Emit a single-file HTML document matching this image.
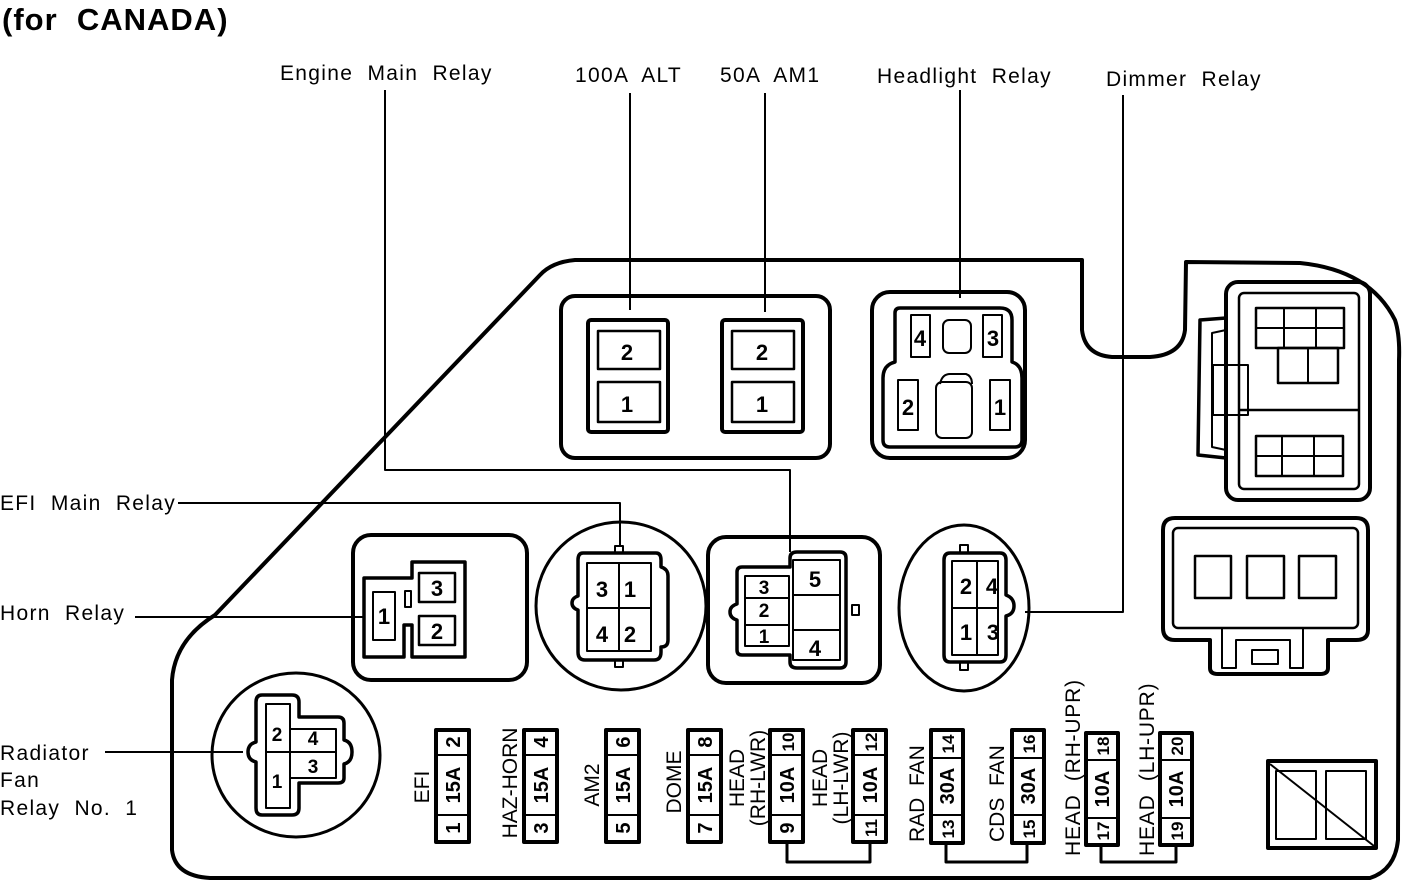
<!DOCTYPE html>
<html><head><style>
html,body{margin:0;padding:0;background:#fff;}
svg{display:block;}
text{font-family:"Liberation Sans",Arial,sans-serif;fill:#000;white-space:pre;}
.l{font-size:21px;letter-spacing:1.3px;}
.n{font-size:22px;font-weight:bold;}
.f{font-size:20px;font-weight:bold;}
.fl{font-size:21px;}
</style></head><body>
<svg width="1408" height="892" viewBox="0 0 1408 892" xmlns="http://www.w3.org/2000/svg" xml:space="preserve">
<g fill="none" stroke="#000" stroke-linejoin="round">
<path d="M172 850 L172 680 Q175 640 215 615 L540 275 Q552 262 575 260 L1082 260 L1082 330 Q1085 355 1112 357 L1150 357 Q1182 355 1185 330 L1186 262 L1300 263 Q1370 270 1395 320 Q1400 335 1399 360 L1398 840 Q1395 870 1370 878 L210 878 Q175 876 172 850 Z" stroke-width="4"/>
<g stroke-width="2">
<path d="M385 90 L385 470 L790 470 L790 552"/>
<path d="M178 503 L620 503 L620 545"/>
<path d="M135 617 L365 617"/>
<path d="M1123 95 L1123 612 L1025 612"/>
<path d="M960 90 L960 298"/>
<path d="M630 93 L630 310"/>
<path d="M765 93 L765 312"/>
<path d="M105 752 L243 752"/>
</g>
<rect x="561" y="296" width="269" height="162" rx="14" stroke-width="4"/>
<rect x="588" y="320" width="80" height="112" rx="3" stroke-width="4"/>
<rect x="598" y="331" width="62" height="38" stroke-width="2.5"/>
<rect x="598" y="382" width="62" height="40" stroke-width="2.5"/>
<rect x="722" y="320" width="81" height="112" rx="3" stroke-width="4"/>
<rect x="732" y="331" width="62" height="38" stroke-width="2.5"/>
<rect x="732" y="382" width="62" height="40" stroke-width="2.5"/>
<rect x="872" y="292" width="153" height="166" rx="18" stroke-width="4"/>
<path d="M900 308 L1000 308 Q1012 308 1012 320 L1012 362 Q1022 365 1022 378 L1022 440 Q1022 447 1015 447 L890 447 Q883 447 883 440 L883 378 Q883 365 895 362 L895 313 Q895 308 900 308 Z" stroke-width="3.5"/>
<rect x="911" y="315" width="19" height="42" stroke-width="2"/>
<rect x="983" y="315" width="19" height="42" stroke-width="2"/>
<rect x="943" y="320" width="28" height="33" rx="6" stroke-width="2"/>
<rect x="898" y="380" width="20" height="50" stroke-width="2"/>
<rect x="990" y="380" width="20" height="50" stroke-width="2"/>
<rect x="936" y="382" width="36" height="56" rx="6" stroke-width="2"/>
<path d="M940 384 Q942 374 950 374 L966 374 Q972 376 972 384" stroke-width="2"/>
<!-- horn relay -->
<rect x="353" y="535" width="174" height="145" rx="18" stroke-width="4"/>
<path d="M364 578 L412 578 L412 562 L465 562 L465 657 L412 657 L412 625 L404 625 L404 657 L364 657 Z" stroke-width="3.5"/>
<rect x="373" y="592" width="22" height="48" stroke-width="2"/>
<rect x="405" y="591" width="6" height="16" stroke-width="2"/>
<rect x="419" y="573" width="36" height="29" stroke-width="2.5"/>
<rect x="419" y="616" width="36" height="29" stroke-width="2.5"/>
<ellipse cx="621" cy="606" rx="85" ry="84" stroke-width="3"/>
<path d="M583 553 L656 553 Q661 553 661 560 L661 567 Q668 569 668 576 L668 640 Q668 647 661 647 L661 652 Q661 660 654 660 L585 660 Q578 660 578 652 L578 610 Q572 608 572 603 Q572 598 578 596 L578 560 Q578 553 583 553 Z" stroke-width="3.5"/>
<rect x="587" y="563" width="64" height="88" stroke-width="2"/>
<path d="M619 563 L619 651 M587 608 L651 608" stroke-width="2"/>
<rect x="615" y="546" width="8" height="7" stroke-width="2"/>
<rect x="615" y="660" width="8" height="7" stroke-width="2"/>
<rect x="708" y="537" width="172" height="146" rx="18" stroke-width="4"/>
<path d="M742 567 L790 567 L790 558 Q790 552 797 552 L840 552 Q846 552 846 558 L846 662 Q846 668 840 668 L797 668 Q790 668 790 662 L790 655 L742 655 Q737 655 737 650 L737 620 Q730 618 730 612 Q730 606 737 604 L737 572 Q737 567 742 567 Z" stroke-width="3.5"/>
<rect x="745" y="576" width="44" height="70" stroke-width="2"/>
<path d="M745 598 L789 598 M745 625 L789 625" stroke-width="2"/>
<rect x="793" y="560" width="47" height="100" stroke-width="2"/>
<path d="M793 595 L840 595 M793 630 L840 630" stroke-width="2"/>
<rect x="852" y="605" width="7" height="10" stroke-width="2"/>
<ellipse cx="964" cy="608" rx="65" ry="83" stroke-width="3"/>
<path d="M950 553 L1000 553 Q1006 553 1006 560 L1006 595 Q1014 598 1014 606 Q1014 614 1006 616 L1006 655 Q1006 662 1000 662 L950 662 Q944 662 944 655 L944 560 Q944 553 950 553 Z" stroke-width="3.5"/>
<rect x="952" y="561" width="46" height="94" stroke-width="2"/>
<path d="M977 561 L977 655 M952 608 L998 608" stroke-width="2"/>
<rect x="960" y="545" width="8" height="8" stroke-width="2"/>
<rect x="960" y="662" width="8" height="8" stroke-width="2"/>
<ellipse cx="296" cy="755" rx="84" ry="82" stroke-width="3"/>
<path d="M262 695 L292 695 Q299 695 299 702 L299 717 L338 717 Q344 717 344 723 L344 740 Q352 742 352 752 Q352 762 344 764 L344 778 Q344 783 338 783 L299 783 L299 808 Q299 815 292 815 L262 815 Q256 815 256 808 L256 762 Q248 760 248 752 Q248 744 256 742 L256 702 Q256 695 262 695 Z" stroke-width="3.5"/>
<rect x="266" y="704" width="24" height="104" stroke-width="2"/>
<rect x="290" y="729" width="46" height="49" stroke-width="2"/>
<path d="M266 752 L336 752" stroke-width="2"/>
<rect x="1226" y="282" width="144" height="218" rx="12" stroke-width="4"/>
<rect x="1239" y="293" width="120" height="196" rx="5" stroke-width="2.5"/>
<path d="M1226 318 L1200 320 L1198 455 L1226 458" stroke-width="3.5"/>
<path d="M1226 330 L1212 333 L1212 447 L1226 450" stroke-width="2"/>
<path d="M1239 410 L1359 410" stroke-width="2.5"/>
<rect x="1256" y="308" width="88" height="40" stroke-width="2.5"/>
<path d="M1284 308 L1284 348 M1316 308 L1316 348 M1256 328 L1344 328" stroke-width="2"/>
<rect x="1278" y="348" width="60" height="35" stroke-width="2.5"/>
<path d="M1308 348 L1308 383" stroke-width="2"/>
<rect x="1256" y="436" width="87" height="40" stroke-width="2.5"/>
<path d="M1282 436 L1282 476 M1314 436 L1314 476 M1256 456 L1343 456" stroke-width="2"/>
<rect x="1213" y="365" width="35" height="50" stroke-width="2"/>
<path d="M1175 518 L1356 518 Q1368 518 1368 530 L1368 630 Q1368 640 1356 640 L1328 640 L1328 668 Q1328 674 1320 674 L1218 674 Q1210 674 1210 668 L1210 640 L1175 640 Q1163 640 1163 628 L1163 530 Q1163 518 1175 518 Z" stroke-width="4"/>
<rect x="1173" y="528" width="185" height="100" rx="5" stroke-width="2.5"/>
<rect x="1195" y="556" width="36" height="42" stroke-width="2.5"/>
<rect x="1247" y="556" width="37" height="42" stroke-width="2.5"/>
<rect x="1299" y="556" width="37" height="42" stroke-width="2.5"/>
<path d="M1222 628 L1222 668 L1236 668 L1236 640 L1290 640 L1290 668 L1303 668 L1303 628" stroke-width="2"/>
<rect x="1252" y="650" width="26" height="14" stroke-width="2"/>
<rect x="1268" y="761" width="108" height="87" stroke-width="4"/>
<rect x="1276" y="771" width="40" height="68" stroke-width="2"/>
<rect x="1326" y="771" width="40" height="68" stroke-width="2"/>
<path d="M1270 764 L1374 846" stroke-width="2"/>
<g stroke-width="4">
<rect x="436" y="730" width="33" height="112"/><rect x="524" y="730" width="33" height="112"/>
<rect x="606" y="730" width="33" height="112"/><rect x="688" y="730" width="33" height="112"/>
<rect x="770" y="730" width="33" height="112"/><rect x="853" y="730" width="33" height="112"/>
<rect x="931" y="730" width="32" height="113"/><rect x="1012" y="730" width="32" height="113"/>
<rect x="1086" y="733" width="32" height="112"/><rect x="1160" y="733" width="32" height="112"/>
</g>
<g stroke-width="2">
<path d="M436 755 L469 755 M436 815 L469 815 M524 755 L557 755 M524 815 L557 815 M606 755 L639 755 M606 815 L639 815 M688 755 L721 755 M688 815 L721 815 M770 755 L803 755 M770 815 L803 815 M853 755 L886 755 M853 815 L886 815"/>
<path d="M931 758 L963 758 M931 815 L963 815 M1012 758 L1044 758 M1012 815 L1044 815 M1086 760 L1118 760 M1086 818 L1118 818 M1160 760 L1192 760 M1160 818 L1192 818"/>
</g>
<g stroke-width="3">
<path d="M787 842 L787 862 L870 862 L870 842"/>
<path d="M946 843 L946 862 L1027 862 L1027 843"/>
<path d="M1101 845 L1101 862 L1176 862 L1176 845"/>
</g>
</g>

<text x="2" y="30" style="font-size:31px;font-weight:bold;letter-spacing:1px">(for  CANADA)</text>
<text class="l" x="280" y="80">Engine  Main  Relay</text>
<text class="l" x="575" y="82">100A  ALT</text>
<text class="l" x="720" y="82">50A  AM1</text>
<text class="l" x="877" y="83">Headlight  Relay</text>
<text class="l" x="1106" y="86">Dimmer  Relay</text>
<text class="l" x="0" y="510">EFI  Main  Relay</text>
<text class="l" x="0" y="620">Horn  Relay</text>
<text class="l" x="0" y="760">Radiator</text>
<text class="l" x="0" y="787">Fan</text>
<text class="l" x="0" y="815">Relay  No.  1</text>

<g class="n" text-anchor="middle">
<text x="627" y="360">2</text><text x="627" y="412">1</text>
<text x="762" y="360">2</text><text x="762" y="412">1</text>
<text x="920" y="346">4</text><text x="993" y="346">3</text>
<text x="908" y="415">2</text><text x="1000" y="415">1</text>
<text x="384" y="624">1</text><text x="437" y="596">3</text><text x="437" y="639">2</text>
<text x="602" y="597">3</text><text x="630" y="597">1</text>
<text x="602" y="642">4</text><text x="630" y="642">2</text>
<text x="764" y="594" style="font-size:19px">3</text><text x="764" y="617" style="font-size:19px">2</text><text x="764" y="643" style="font-size:19px">1</text>
<text x="815" y="587">5</text><text x="815" y="656">4</text>
<text x="966" y="594">2</text><text x="992" y="594">4</text>
<text x="966" y="640">1</text><text x="993" y="640">3</text>
<text x="277" y="741" style="font-size:19px">2</text><text x="277" y="788" style="font-size:19px">1</text>
<text x="313" y="745" style="font-size:19px">4</text><text x="313" y="773" style="font-size:19px">3</text>
</g>

<g class="f" text-anchor="middle">
<text transform="translate(460,742) rotate(-90)">2</text>
<text transform="translate(460,785) rotate(-90)">15A</text>
<text transform="translate(460,828) rotate(-90)">1</text>
<text transform="translate(548,742) rotate(-90)">4</text>
<text transform="translate(548,785) rotate(-90)">15A</text>
<text transform="translate(548,828) rotate(-90)">3</text>
<text transform="translate(630,742) rotate(-90)">6</text>
<text transform="translate(630,785) rotate(-90)">15A</text>
<text transform="translate(630,828) rotate(-90)">5</text>
<text transform="translate(712,742) rotate(-90)">8</text>
<text transform="translate(712,785) rotate(-90)">15A</text>
<text transform="translate(712,828) rotate(-90)">7</text>
<text transform="translate(794,742) rotate(-90)" style="font-size:17px">10</text>
<text transform="translate(794,785) rotate(-90)">10A</text>
<text transform="translate(794,828) rotate(-90)">9</text>
<text transform="translate(877,742) rotate(-90)" style="font-size:17px">12</text>
<text transform="translate(877,785) rotate(-90)">10A</text>
<text transform="translate(877,828) rotate(-90)" style="font-size:17px">11</text>
<text transform="translate(954,744) rotate(-90)" style="font-size:17px">14</text>
<text transform="translate(954,786) rotate(-90)">30A</text>
<text transform="translate(954,829) rotate(-90)" style="font-size:17px">13</text>
<text transform="translate(1035,744) rotate(-90)" style="font-size:17px">16</text>
<text transform="translate(1035,786) rotate(-90)">30A</text>
<text transform="translate(1035,829) rotate(-90)" style="font-size:17px">15</text>
<text transform="translate(1109,746) rotate(-90)" style="font-size:17px">18</text>
<text transform="translate(1109,789) rotate(-90)">10A</text>
<text transform="translate(1109,831) rotate(-90)" style="font-size:17px">17</text>
<text transform="translate(1183,746) rotate(-90)" style="font-size:17px">20</text>
<text transform="translate(1183,789) rotate(-90)">10A</text>
<text transform="translate(1183,831) rotate(-90)" style="font-size:17px">19</text>
</g>

<g class="fl" text-anchor="middle">
<text transform="translate(429,787) rotate(-90)">EFI</text>
<text transform="translate(517,783) rotate(-90)">HAZ-HORN</text>
<text transform="translate(599,785) rotate(-90)">AM2</text>
<text transform="translate(681,782) rotate(-90)">DOME</text>
<text transform="translate(744,778) rotate(-90)">HEAD</text>
<text transform="translate(765,778) rotate(-90)">(RH-LWR)</text>
<text transform="translate(827,778) rotate(-90)">HEAD</text>
<text transform="translate(848,778) rotate(-90)">(LH-LWR)</text>
</g>
<g class="fl" text-anchor="start">
<text transform="translate(924,842) rotate(-90)">RAD  FAN</text>
<text transform="translate(1004,842) rotate(-90)">CDS  FAN</text>
<text transform="translate(1080,856) rotate(-90)" style="letter-spacing:0.8px">HEAD  (RH-UPR)</text>
<text transform="translate(1154,856) rotate(-90)" style="letter-spacing:0.8px">HEAD  (LH-UPR)</text>
</g>
</svg>
</body></html>
